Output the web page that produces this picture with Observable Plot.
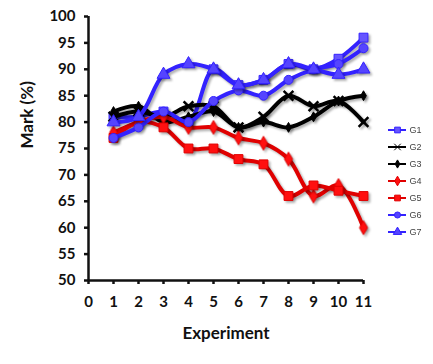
<!DOCTYPE html>
<html>
<head>
<meta charset="utf-8">
<script src="https://cdn.jsdelivr.net/npm/d3@7"></script>
<script src="https://cdn.jsdelivr.net/npm/@observablehq/plot@0.6"></script>
<style>
  html, body { margin: 0; padding: 0; background: #fff; }
  #wrap { position: relative; width: 433px; height: 364px; }
  #legend { position: absolute; left: 383px; top: 118px; }
  #chart g[aria-label="line"], #chart g[aria-label="dot"] {
    filter: drop-shadow(2px 2px 1px rgba(0,0,0,0.3));
  }
</style>
</head>
<body>
<div id="wrap"><div id="chart"></div><div id="legend"></div></div>
<script>
const experiments = [1, 2, 3, 4, 5, 6, 7, 8, 9, 10, 11];
const seriesNames = ["G1", "G2", "G3", "G4", "G5", "G6", "G7"];
const g1 = [81, 81, 82, 80, 90, 87, 88, 91, 90, 92, 96];
const g2 = [81, 82, 81, 83, 83, 79, 81, 85, 83, 84, 80];
const g3 = [82, 83, 80, 81, 82, 79, 80, 79, 81, 84, 85];
const g4 = [78, 80, 81, 79, 79, 77, 76, 73, 66, 68, 60];
const g5 = [77, 80, 79, 75, 75, 73, 72, 66, 68, 67, 66];
const g6 = [77, 79, 82, 80, 84, 86, 85, 88, 90, 91, 94];
const g7 = [80, 81, 89, 91, 90, 87, 88, 91, 90, 89, 90];
const seriesValues = [g1, g2, g3, g4, g5, g6, g7];
const seriesColors = ["#3322ff", "#000000", "#000000", "#e00000", "#e00000", "#3322ff", "#3322ff"];
const markerFills = ["#6655ff", "#000000", "#000000", "#ff1010", "#ff1010", "#5544ff", "#5544ff"];
const seriesSymbols = ["square", "times", "diamond", "diamond", "square", "circle", "triangle"];
const markerSizes = [5, 4.5, 3, 4.2, 5, 4.5, 4.8];
const xTicks = [0, 1, 2, 3, 4, 5, 6, 7, 8, 9, 10, 11];
const yTicks = [50, 55, 60, 65, 70, 75, 80, 85, 90, 95, 100];

const rows = [];
seriesNames.forEach((s, i) => {
  experiments.forEach((e, j) => rows.push({series: s, idx: i, experiment: e, mark: seriesValues[i][j]}));
});

const font = "Lato, 'Open Sans', sans-serif";
const seriesMarks = [];
seriesNames.forEach((s, i) => {
  const data = rows.filter(d => d.series === s);
  seriesMarks.push(Plot.line(data, {x: "experiment", y: "mark", stroke: seriesColors[i], strokeWidth: 4, curve: "catmull-rom"}));
  seriesMarks.push(Plot.dot(data, {x: "experiment", y: "mark", symbol: () => seriesSymbols[i], r: markerSizes[i],
    fill: markerFills[i], stroke: seriesColors[i], strokeWidth: seriesSymbols[i] === "times" ? 2.5 : 1}));
});

const chart = Plot.plot({
  width: 433, height: 364,
  marginLeft: 88, marginRight: 70, marginTop: 16, marginBottom: 84,
  style: {fontFamily: font, background: "#fff", overflow: "visible"},
  x: {domain: [0, 11]},
  y: {domain: [50, 100]},
  symbol: {type: "identity"},
  marks: [
    Plot.axisY({ticks: yTicks, tickSize: 4, tickPadding: 9, fontSize: 15, fontWeight: "bold", stroke: "#111", strokeWidth: 2.5, label: null, fill: "#111"}),
    Plot.axisX({ticks: xTicks, tickSize: 4, tickPadding: 12, fontSize: 15, fontWeight: "bold", stroke: "#111", strokeWidth: 2.5, label: null, fill: "#111"}),
    Plot.ruleX([0], {stroke: "#111", strokeWidth: 2.5}),
    Plot.ruleY([50], {stroke: "#111", strokeWidth: 2.5}),
    Plot.text(["Experiment"], {frameAnchor: "bottom", dy: 58, fontSize: 17, fontWeight: "bold", fill: "#111"}),
    Plot.text(["Mark (%)"], {frameAnchor: "left", dx: -61, rotate: -90, fontSize: 17, fontWeight: "bold", fill: "#111"}),
    ...seriesMarks
  ]
});
document.getElementById("chart").appendChild(chart);

const legendRows = seriesNames.map((s, i) => ({series: s, idx: i}));
const legend = Plot.plot({
  width: 50, height: 126,
  marginLeft: 5, marginRight: 27, marginTop: 0, marginBottom: 0,
  style: {fontFamily: "'Liberation Sans', Arial, sans-serif", overflow: "visible", background: "transparent"},
  x: {domain: [0, 1], axis: null},
  y: {type: "band", domain: seriesNames, axis: null},
  symbol: {type: "identity"},
  marks: [
    Plot.ruleY(legendRows, {y: "series", x1: 0, x2: 1, stroke: d => seriesColors[d.idx], strokeWidth: 2}),
    Plot.dot(legendRows, {y: "series", x: 0.5, symbol: d => seriesSymbols[d.idx], r: d => markerSizes[d.idx] * 0.7,
      fill: d => markerFills[d.idx], stroke: d => seriesColors[d.idx], strokeWidth: 1}),
    Plot.text(legendRows, {y: "series", x: 1, text: "series", textAnchor: "start", dx: 3, fontSize: 9, fill: "#444"})
  ]
});
document.getElementById("legend").appendChild(legend);
</script>
</body>
</html>
